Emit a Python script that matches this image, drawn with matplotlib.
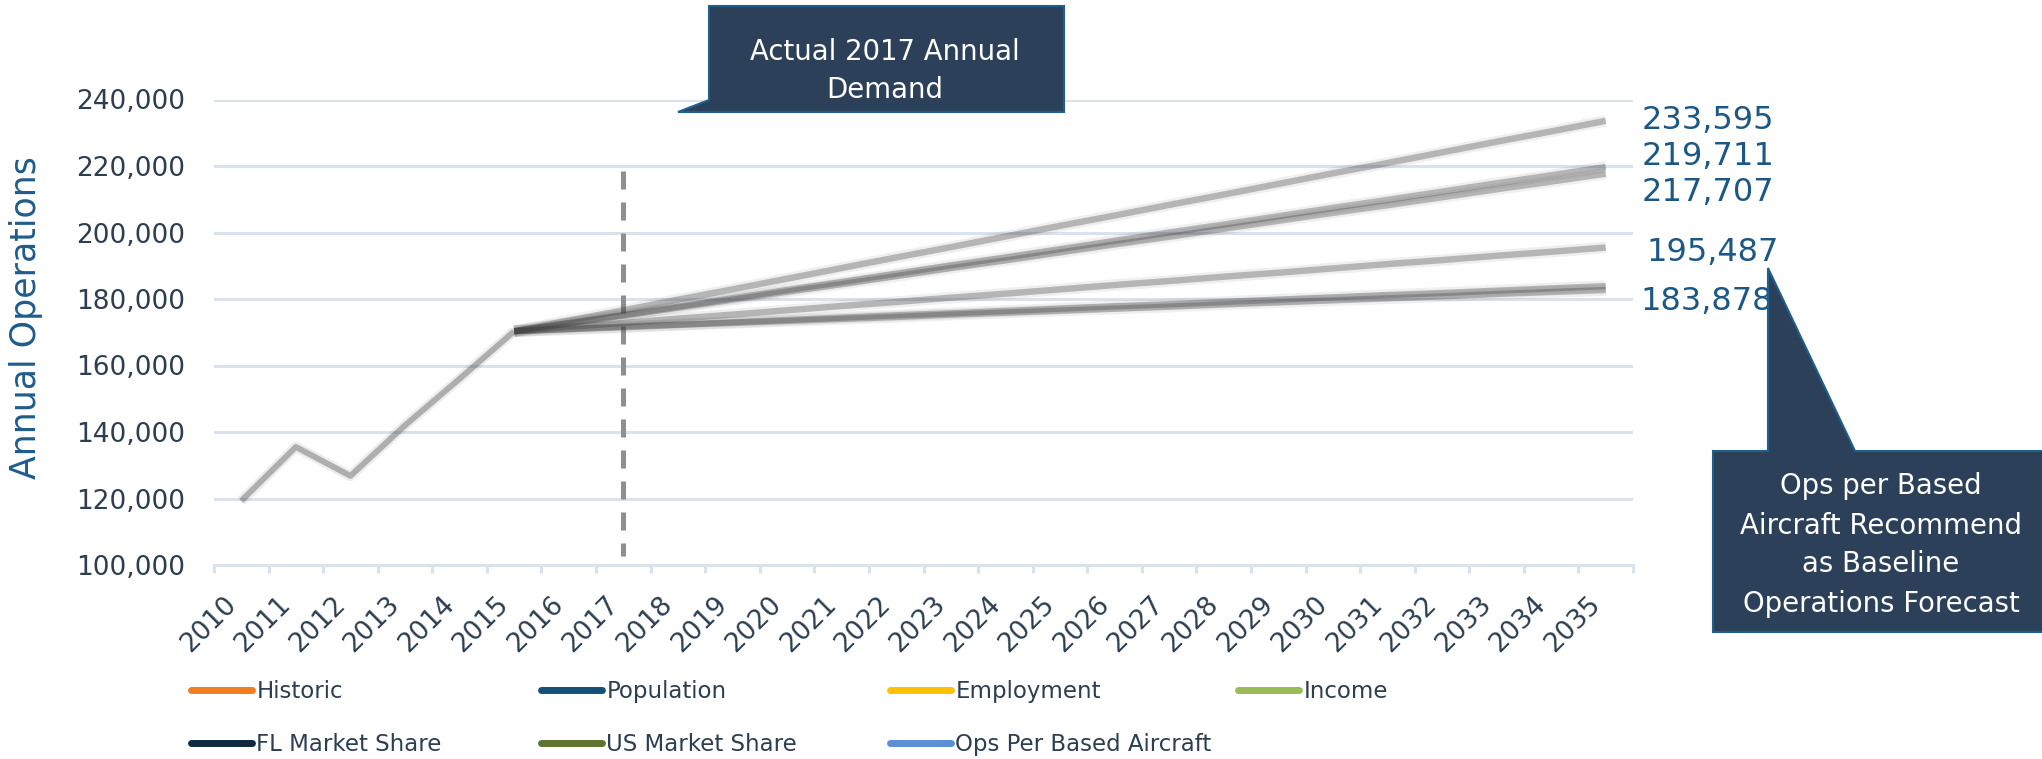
import matplotlib
matplotlib.use('Agg')
import matplotlib.pyplot as plt
from matplotlib.lines import Line2D
from matplotlib.patches import Polygon
from matplotlib.ticker import FuncFormatter

years = ['2010', '2011', '2012', '2013', '2014', '2015', '2016', '2017', '2018',
         '2019', '2020', '2021', '2022', '2023', '2024', '2025', '2026', '2027',
         '2028', '2029', '2030', '2031', '2032', '2033', '2034', '2035']

historic = [119300, 135500, 126800, 142000, 156000, 170300]

# forecast series, 2015 - 2035
income = [170300, 173500, 176600, 179800, 182900, 186100, 189300, 192500, 195600, 198800, 202000,
          205100, 208300, 211400, 214600, 217800, 220900, 224100, 227300, 230400, 233595]
employment = [170300, 172800, 175200, 177700, 180200, 182700, 185100, 187600, 190100, 192500, 195000,
              197500, 200000, 202400, 204900, 207400, 209800, 212300, 214800, 217200, 219711]
population = [170300, 172700, 175000, 177400, 179800, 182200, 184500, 186900, 189300, 191600, 194000,
              196400, 198700, 201100, 203500, 205900, 208200, 210600, 213000, 215300, 217707]
fl_share = [170300, 171600, 172800, 174100, 175300, 176600, 177900, 179100, 180400, 181600, 182900,
            184200, 185400, 186700, 187900, 189200, 190500, 191700, 193000, 194200, 195487]
ops_per_aircraft = [170300, 171000, 171700, 172300, 173000, 173700, 174400, 175100, 175700, 176400, 177100,
                    177800, 178400, 179100, 179800, 180500, 181200, 181800, 182500, 183200, 183878]
us_share = [170300, 170900, 171500, 172200, 172800, 173400, 174000, 174600, 175300, 175900, 176500,
            177100, 177700, 178400, 179000, 179600, 180200, 180800, 181500, 182100, 182700]

legend_names = ['Historic', 'Population', 'Employment', 'Income',
                'FL Market Share', 'US Market Share', 'Ops Per Based Aircraft']
legend_colors = ['#F07F24', '#13507A', '#FFC000', '#9BBB59',
                 '#0E2A40', '#5E7430', '#5B8FD3']

marker_year = '2017'
marker_range = [218400, 102700]

callout_top = 'Actual 2017 Annual\nDemand'
callout_right = 'Ops per Based\nAircraft Recommend\nas Baseline\nOperations Forecast'

W, H = 2042, 759
fig = plt.figure(figsize=(W / 100, H / 100), dpi=100)
ax = fig.add_axes([214 / W, 1 - 565 / H, (1633 - 214) / W, (565 - 99.5) / H])

grid_c = '#DAE2EC'
text_c = '#2D3E50'
blue_c = '#1B5886'

# dashed marker for 2017
mx = years.index(marker_year)
ax.plot([mx, mx], marker_range, color='#8F8F8F', lw=3.6, dashes=(3.6, 2.6), zorder=1)


def soft_line(x, y, base, alpha, lw):
    # wide faint pass plus core, gives the blurred look of the original
    ax.plot(x, y, color=base, alpha=alpha * 0.25, lw=lw * 1.8, solid_capstyle='butt', zorder=2)
    ax.plot(x, y, color=base, alpha=alpha, lw=lw, solid_capstyle='butt', zorder=3)


hx = list(range(len(historic)))
soft_line(hx, historic, '#505050', 0.4, 4.2)

start = years.index('2015')
fx = list(range(start, start + len(income)))
for s in [income, employment, population, fl_share, ops_per_aircraft, us_share]:
    soft_line(fx, s, '#404040', 0.33, 4.6)

# value labels at 2035
label_series = [income, employment, population, fl_share, ops_per_aircraft]
label_offsets = [(26, 0), (26, 7.6), (26, -13.4), (29, -3.3), (25, -10.8)]
for s, off in zip(label_series, label_offsets):
    ax.annotate(f'{s[-1]:,}', xy=(fx[-1], s[-1]), xytext=off, textcoords='offset points',
                ha='left', va='center', fontsize=23, color=blue_c, annotation_clip=False)

ax.set_xlim(-0.5, len(years) - 0.5)
ax.set_ylim(100000, 240000)
ax.set_yticks(range(100000, 240001, 20000))
ax.yaxis.set_major_formatter(FuncFormatter(lambda v, p: f'{int(v):,}'))
ax.tick_params(axis='y', length=0, pad=21, labelsize=19, labelcolor=text_c)
ax.grid(axis='y', color=grid_c, lw=2.2, zorder=0)
ax.set_axisbelow(True)

ax.set_xticks(range(len(years)))
ax.set_xticklabels(years, rotation=45, ha='right', fontsize=19, color=text_c)
ax.set_xticks([i - 0.5 for i in range(len(years) + 1)], minor=True)
ax.tick_params(axis='x', which='major', length=0, pad=19)
ax.tick_params(axis='x', which='minor', length=6, width=2.2, color=grid_c)

for sp in ['top', 'right', 'left']:
    ax.spines[sp].set_visible(False)
ax.spines['bottom'].set_color(grid_c)
ax.spines['bottom'].set_linewidth(2.2)

fig.text(26 / W, 1 - 318 / H, 'Annual Operations', rotation=90, ha='center', va='center',
         fontsize=25, color='#1F5C8C')

# legend, four columns of two rows
handles = [Line2D([], [], color=c, lw=5, solid_capstyle='round') for c in legend_colors]
col_x = [191, 541, 890, 1238]
for i, x in enumerate(col_x):
    idx = [j for j in (i, i + 4) if j < len(legend_names)]
    fig.legend([handles[j] for j in idx], [legend_names[j] for j in idx],
               loc='upper left', bbox_to_anchor=(x / W, 1 - 680 / H), frameon=False,
               fontsize=16.5, labelcolor=text_c, handlelength=2.65, handletextpad=0.2,
               labelspacing=1.3, borderpad=0, borderaxespad=0)

# callout boxes
box_c = '#2C4159'
edge_c = '#1F5F8B'


def px(points):
    return [(x / W, 1 - y / H) for x, y in points]


fig.add_artist(Polygon(px([(709, 6), (1064, 6), (1064, 112), (678, 112), (709, 100)]),
                       closed=True, transform=fig.transFigure, facecolor=box_c,
                       edgecolor=edge_c, lw=1.5, zorder=5))
fig.text(885 / W, 1 - 71 / H, callout_top, ha='center', va='center', fontsize=19.8,
         color='white', linespacing=1.5, zorder=6)

fig.add_artist(Polygon(px([(1713, 451), (1768, 451), (1768, 268), (1855, 451), (2060, 451),
                           (2060, 632), (1713, 632)]),
                       closed=True, transform=fig.transFigure, facecolor=box_c,
                       edgecolor=edge_c, lw=1.5, zorder=5))
fig.text(1881 / W, 1 - 545 / H, callout_right, ha='center', va='center', fontsize=19.8,
         color='white', linespacing=1.5, zorder=6)

fig.savefig('out.png', dpi=100)
